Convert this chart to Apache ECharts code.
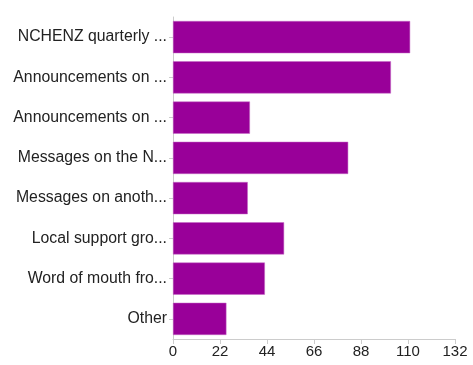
<!DOCTYPE html>
<html>
<head>
<meta charset="utf-8">
<script src="https://cdn.jsdelivr.net/npm/echarts@6/dist/echarts.min.js"></script>
<style>
  html, body { margin: 0; padding: 0; background: #fff; }
  #chart { width: 473px; height: 365px; }
</style>
</head>
<body>
<div id="chart"></div>
<script>
// categories listed top to bottom as in the picture
var categories = [
  'NCHENZ quarterly ...',
  'Announcements on ...',
  'Announcements on ...',
  'Messages on the N...',
  'Messages on anoth...',
  'Local support gro...',
  'Word of mouth fro...',
  'Other'
];
var counts = [111, 102, 36, 82, 35, 52, 43, 25];
var xTicks = [0, 22, 44, 66, 88, 110, 132];

var chart = echarts.init(document.getElementById('chart'));

// echarts category axis draws bottom-up, so reverse for display
var cats = categories.slice().reverse();
var vals = counts.slice().reverse();

chart.setOption({
  animation: false,
  textStyle: { fontFamily: 'Liberation Sans, Arial, sans-serif' },
  grid: { left: 173, right: 18, top: 17, bottom: 26 },
  xAxis: {
    type: 'value',
    min: xTicks[0],
    max: xTicks[xTicks.length - 1],
    interval: 22,
    axisLine: { show: true, lineStyle: { color: '#ccc', width: 1 } },
    axisTick: { show: true, length: 5, lineStyle: { color: '#ccc' } },
    axisLabel: { color: '#222', fontSize: 15, margin: 5 },
    splitLine: { show: false }
  },
  yAxis: {
    type: 'category',
    data: cats,
    axisLine: { show: true, lineStyle: { color: '#ccc', width: 1 } },
    axisTick: { show: true, alignWithLabel: true, length: 4, lineStyle: { color: '#ccc' } },
    axisLabel: { color: '#222', fontSize: 15.8, margin: 6 }
  },
  series: [{
    type: 'bar',
    data: vals,
    barCategoryGap: '20%',
    itemStyle: { color: '#990099', borderColor: '#c466c4', borderWidth: 0.5 }
  }]
});
</script>
</body>
</html>
